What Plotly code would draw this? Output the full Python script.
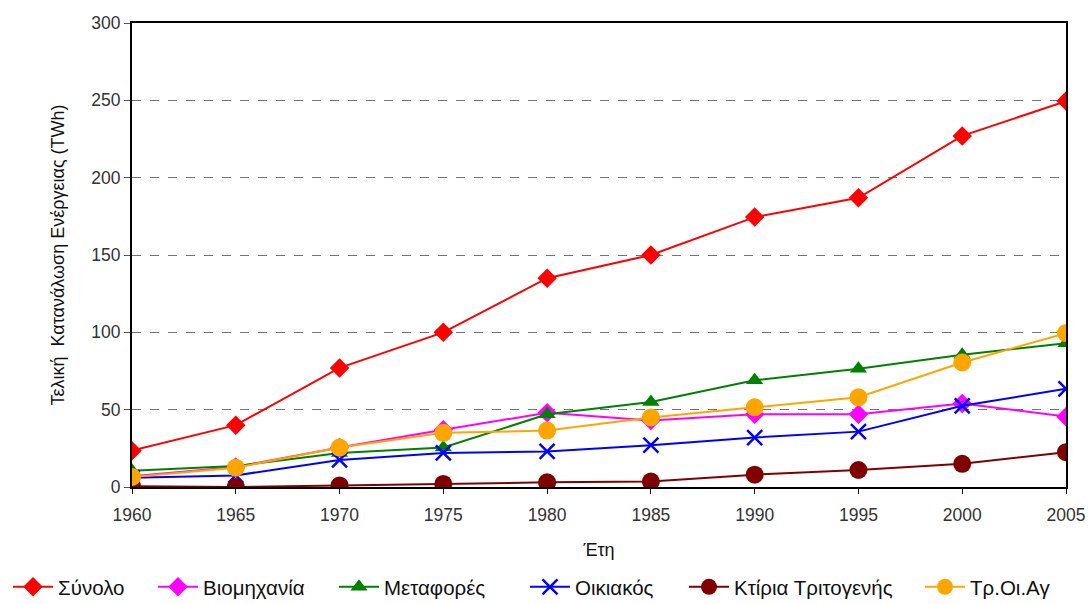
import plotly.graph_objects as go

years = [1960, 1965, 1970, 1975, 1980, 1985, 1990, 1995, 2000, 2005]

synolo = [23.5, 40, 77, 100, 135, 150, 174.5, 187, 227, 249.5]
viomichania = [7, 13, 25.5, 37, 48, 43, 47, 47, 54, 45.5]
metafores = [10.5, 13.5, 22, 25.5, 47, 55, 69, 76.5, 85.5, 93]
oikiakos = [6, 7.5, 17.5, 22, 23, 27, 32, 35.8, 52.5, 63.5]
ktiria = [0.5, 0, 1, 2, 3, 3.5, 8, 11, 15, 22.5]
troiag = [6.5, 12.5, 25.5, 35, 36.5, 45, 51.5, 58, 80.5, 99.5]

names = ["Σύνολο", "Βιομηχανία", "Μεταφορές", "Οικιακός", "Κτίρια Τριτογενής", "Τρ.Οι.Αγ"]
values = [synolo, viomichania, metafores, oikiakos, ktiria, troiag]
colors = ["#ff0000", "#ff00ff", "#008000", "#0000ff", "#800000", "#ffa500"]
symbols = ["diamond", "diamond", "triangle-up", "x-thin", "circle", "circle"]
sizes = [15, 15, 15, 15, 18, 18]

# left edge (px) of each legend entry along the bottom row
legend_left = [8, 153, 334, 525, 684, 920]
W, H = 1088, 604

fig = go.Figure()
for i, (name, vals, col, sym, sz) in enumerate(zip(names, values, colors, symbols, sizes)):
    marker = dict(color=col, size=sz, symbol=sym)
    if sym == "x-thin":
        marker["line"] = dict(color=col, width=2.5)
    key = "legend" if i == 0 else f"legend{i + 1}"
    fig.add_trace(go.Scatter(
        x=years, y=vals, name=name, mode="lines+markers",
        line=dict(color=col, width=2), marker=marker, legend=key,
    ))
    fig.update_layout({key: dict(
        orientation="h", x=legend_left[i] / W, xanchor="left",
        y=1 - 587 / H, yanchor="middle", xref="container", yref="container",
        font=dict(size=20.5, color="#111111"), itemwidth=40,
        bgcolor="rgba(0,0,0,0)",
    )})

fig.update_layout(
    width=W, height=H,
    margin=dict(l=132, r=22, t=23, b=117, autoexpand=False),
    paper_bgcolor="white", plot_bgcolor="white",
    font=dict(family="Liberation Sans, Arial, sans-serif", size=16, color="#222222"),
    showlegend=True,
    xaxis=dict(
        title=dict(text="Έτη", font=dict(size=18, color="#111111"), standoff=19),
        range=[1960, 2005], tickmode="array", tickvals=years,
        ticks="outside", ticklen=5, tickcolor="#000000", ticklabelstandoff=6,
        showline=True, linecolor="#000000", linewidth=2, mirror=True,
        showgrid=False, zeroline=False, automargin=False,
        tickfont=dict(size=17.5, color="#333333"),
    ),
    yaxis=dict(
        title=dict(text="Τελική  Κατανάλωση Ενέργειας (TWh)", font=dict(size=18, color="#111111"), standoff=22),
        range=[0, 300], tickmode="array", tickvals=[0, 50, 100, 150, 200, 250, 300],
        ticks="outside", ticklen=6, tickcolor="#555555",
        showline=True, linecolor="#000000", linewidth=2, mirror=True,
        showgrid=True, gridcolor="#6b7480", griddash="dash", gridwidth=1,
        zeroline=False, automargin=False,
        tickfont=dict(size=17.5, color="#333333"),
    ),
)

fig.write_html("out.html")
